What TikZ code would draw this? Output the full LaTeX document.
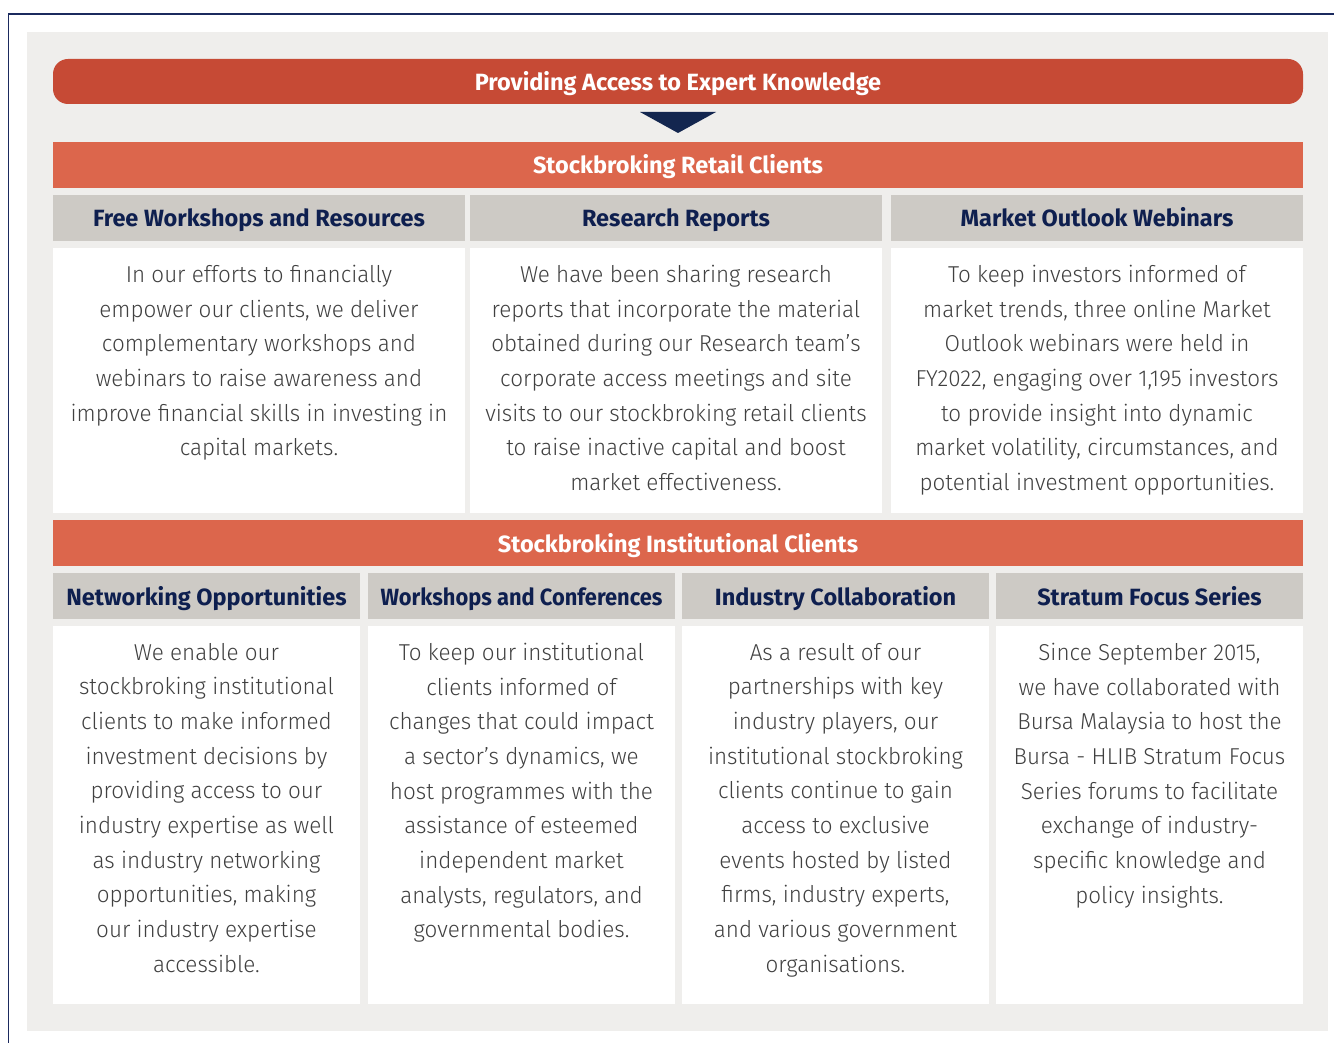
\documentclass[tikz,border=0pt]{standalone}
\usepackage{fontspec}
\setmainfont{Fira Sans}
\newfontfamily\bodyfont{Fira Sans Light}[FakeStretch=0.975]
\newfontfamily\narrowhead{Fira Sans}[FakeStretch=0.93]
\usepackage{xcolor}
\usetikzlibrary{positioning}
\definecolor{framenavy}{HTML}{1B2A5E}
\definecolor{navy}{HTML}{0E1F4F}
\definecolor{arrownavy}{HTML}{13264F}
\definecolor{bggray}{HTML}{EFEEEC}
\definecolor{darkred}{HTML}{C64A35}
\definecolor{lightred}{HTML}{DC664C}
\definecolor{headgray}{HTML}{CDCAC5}
\definecolor{bodygray}{HTML}{404040}

\begin{document}
\begin{tikzpicture}[
  x=1pt, y=-1pt,
  box/.style={inner sep=0pt, outer sep=0pt, anchor=north west, text height=18pt, text depth=0pt},
  topbar/.style={box, fill=darkred, rounded corners=15pt, minimum width=1250pt, minimum height=45pt, text=white, font=\fontsize{23.5}{26}\selectfont\bfseries},
  bar/.style={box, fill=lightred, minimum width=1250pt, minimum height=46pt, text=white, font=\fontsize{23.5}{26}\selectfont\bfseries},
  headA/.style={box, fill=headgray, minimum width=412pt, minimum height=46pt, text=navy, font=\fontsize{23.5}{28}\selectfont\bfseries},
  headB/.style={headA, minimum width=307pt},
  cellA/.style={box, fill=white, minimum width=412pt, minimum height=265pt},
  cellB/.style={box, fill=white, minimum width=307pt, minimum height=378pt},
  body/.style={align=center, text=bodygray, inner sep=0pt, outer sep=0pt, font=\bodyfont\fontsize{23}{34.7}\selectfont}
]
\useasboundingbox (0,0) rectangle (1334,1043);
% frame and panel
\draw[framenavy, line width=1.2pt] (8.5,1043) -- (8.5,14) -- (1334,14);
\fill[bggray] (27,32) rectangle (1328,1031);

% title and pointer
\node[topbar] (title) at (53,59) {Providing Access to Expert Knowledge};
\fill[arrownavy] (640,112) -- (716,112) -- (678,133) -- cycle;

% retail clients
\node[bar] (retail) at (53,142) {Stockbroking Retail Clients};
\node[headA] (ra) at (53,195) {Free Workshops and Resources};
\node[headA] (rb) at (470,195) {Research Reports};
\node[headA] (rc) at (891,195) {Market Outlook Webinars};
\node[cellA] (ca) at (53,248) {};
\node[cellA] (cb) at (470,248) {};
\node[cellA] (cc) at (891,248) {};
\node[body, below=17pt of ca.north] (ta) {In our efforts to financially\\empower our clients, we deliver\\complementary workshops and\\webinars to raise awareness and\\improve financial skills in investing in\\capital markets.};
\node[body, below=17pt of cb.north] (tb) {We have been sharing research\\reports that incorporate the material\\obtained during our Research team’s\\corporate access meetings and site\\visits to our stockbroking retail clients\\to raise inactive capital and boost\\market effectiveness.};
\node[body, below=17pt of cc.north] (tc) {To keep investors informed of\\market trends, three online Market\\Outlook webinars were held in\\FY2022, engaging over 1,195 investors\\to provide insight into dynamic\\market volatility, circumstances, and\\potential investment opportunities.};

% institutional clients
\node[bar] (inst) at (53,520) {Stockbroking Institutional Clients};
\node[headB] (ia) at (53,573) {Networking Opportunities};
\node[headB, font=\narrowhead\fontsize{23.5}{28}\selectfont\bfseries] (ib) at (368,573) {Workshops and Conferences};
\node[headB] (ic) at (682,573) {Industry Collaboration};
\node[headB] (id) at (996,573) {Stratum Focus Series};
\node[cellB] (da) at (53,626) {};
\node[cellB] (db) at (368,626) {};
\node[cellB] (dc) at (682,626) {};
\node[cellB] (dd) at (996,626) {};
\node[body, below=17pt of da.north] (ua) {We enable our\\stockbroking institutional\\clients to make informed\\investment decisions by\\providing access to our\\industry expertise as well\\as industry networking\\opportunities, making\\our industry expertise\\accessible.};
\node[body, below=17pt of db.north] (ub) {To keep our institutional\\clients informed of\\changes that could impact\\a sector’s dynamics, we\\host programmes with the\\assistance of esteemed\\independent market\\analysts, regulators, and\\governmental bodies.};
\node[body, below=17pt of dc.north] (uc) {As a result of our\\partnerships with key\\industry players, our\\institutional stockbroking\\clients continue to gain\\access to exclusive\\events hosted by listed\\firms, industry experts,\\and various government\\organisations.};
\node[body, below=17pt of dd.north] (ud) {Since September 2015,\\we have collaborated with\\Bursa Malaysia to host the\\Bursa - HLIB Stratum Focus\\Series forums to facilitate\\exchange of industry-\\specific knowledge and\\policy insights.};
\end{tikzpicture}
\end{document}
